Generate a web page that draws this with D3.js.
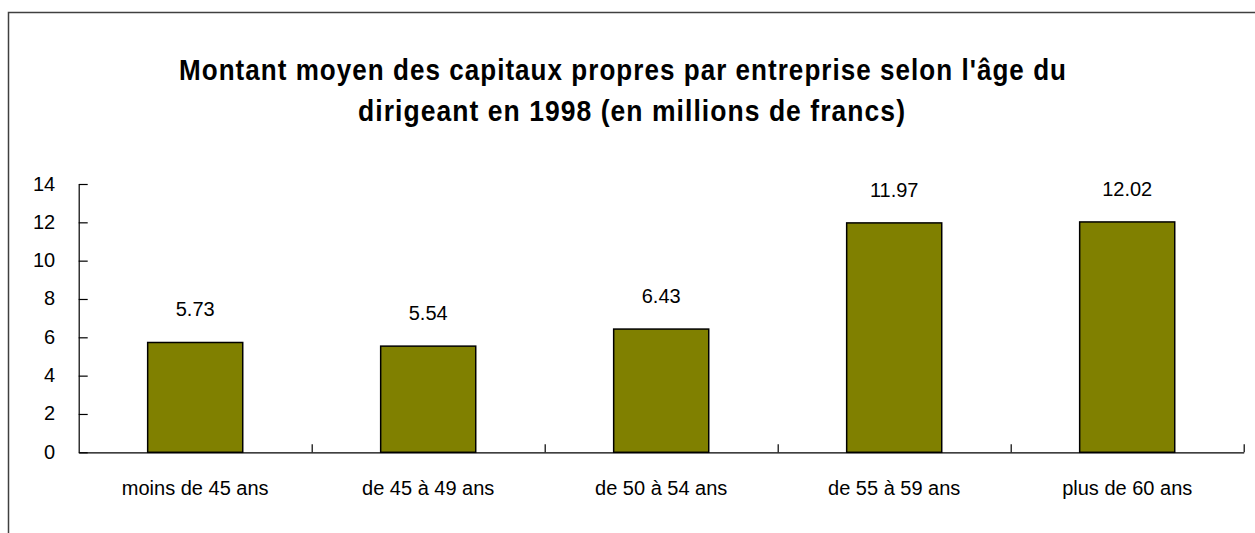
<!DOCTYPE html>
<html>
<head>
<meta charset="utf-8">
<script src="https://cdn.jsdelivr.net/npm/d3@7"></script>
<style>
  body { margin: 0; background: #fff; }
  text { font-family: Arial, "Liberation Sans", sans-serif; fill: #000; }
</style>
</head>
<body>
<script>

// chart data
var categories = ["moins de 45 ans", "de 45 à 49 ans", "de 50 à 54 ans", "de 55 à 59 ans", "plus de 60 ans"];
var values = [5.73, 5.54, 6.43, 11.97, 12.02];
var valueLabels = ["5.73", "5.54", "6.43", "11.97", "12.02"];
var yTicks = [0, 2, 4, 6, 8, 10, 12, 14];
var titleLines = ["Montant moyen des capitaux propres par entreprise selon l'âge du",
                  "dirigeant en 1998 (en millions de francs)"];
var titleWidths = [888, 548];

var W = 1255, H = 533;
var plot = {left: 78.7, right: 1243.7, top: 184, bottom: 452.3};

var svg = d3.select("body").append("svg")
    .attr("width", W)
    .attr("height", H);

// outer frame (only left and top edges are visible in the picture)
svg.append("path")
    .attr("d", "M8.5," + H + "V12.5H" + W)
    .attr("fill", "none")
    .attr("stroke", "#404040")
    .attr("stroke-width", 1.5);

// title, a bit condensed with wider spacing like the original
svg.append("g").selectAll("text")
    .data(titleLines)
    .enter().append("text")
    .attr("x", function(d, i) { return i === 0 ? 179 : 358; })
    .attr("y", function(d, i) { return 80 + i * 41; })
    .attr("textLength", function(d, i) { return titleWidths[i]; })
    .attr("lengthAdjust", "spacingAndGlyphs")
    .style("font-size", "30px")
    .style("font-weight", "bold")
    .style("letter-spacing", "1.2px")
    .text(function(d) { return d; });

// scales
var xScale = d3.scaleBand()
    .domain(categories)
    .range([plot.left, plot.right])
    .paddingInner(0.592)
    .paddingOuter(0.296);

var xEdges = d3.scaleLinear()
    .domain([0, categories.length])
    .range([plot.left, plot.right]);

var yScale = d3.scaleLinear()
    .domain([0, 14])
    .range([plot.bottom, plot.top]);

// bars
svg.append("g").selectAll("rect")
    .data(values)
    .enter().append("rect")
    .attr("x", function(d, i) { return xScale(categories[i]); })
    .attr("y", function(d) { return yScale(d); })
    .attr("width", xScale.bandwidth())
    .attr("height", function(d) { return yScale(0) - yScale(d); })
    .attr("fill", "#808000")
    .attr("stroke", "#000")
    .attr("stroke-width", 1.5);

// value labels above bars
svg.append("g").selectAll("text")
    .data(values)
    .enter().append("text")
    .attr("x", function(d, i) { return xScale(categories[i]) + xScale.bandwidth() / 2; })
    .attr("y", function(d) { return yScale(d) - 26; })
    .attr("text-anchor", "middle")
    .style("font-size", "20px")
    .text(function(d, i) { return valueLabels[i]; });

// y axis, ticks pointing inward
var yAxis = d3.axisLeft(yScale)
    .tickValues(yTicks)
    .tickSizeInner(-9)
    .tickSizeOuter(0)
    .tickPadding(23.5)
    .tickFormat(d3.format("d"));

var gy = svg.append("g")
    .attr("class", "y axis")
    .attr("transform", "translate(" + plot.left + ",0)")
    .call(yAxis);
gy.selectAll("text").style("font-size", "20px").attr("dy", "0.3em");

// x axis line with tick marks between categories
var xAxis = d3.axisBottom(xEdges)
    .tickValues(d3.range(1, categories.length + 1))
    .tickSizeInner(-8)
    .tickSizeOuter(0)
    .tickFormat("");

svg.append("g")
    .attr("class", "x axis")
    .attr("transform", "translate(0," + plot.bottom + ")")
    .call(xAxis);

// category labels
var xLabels = d3.axisBottom(xScale).tickSize(0).tickPadding(32);
var gl = svg.append("g")
    .attr("transform", "translate(0," + plot.bottom + ")")
    .call(xLabels);
gl.select(".domain").remove();
gl.selectAll("text").style("font-size", "20px").attr("dy", "0.55em");

svg.selectAll(".axis path, .axis line")
    .attr("stroke", "#000")
    .attr("stroke-width", 1.2);

</script>
</body>
</html>
